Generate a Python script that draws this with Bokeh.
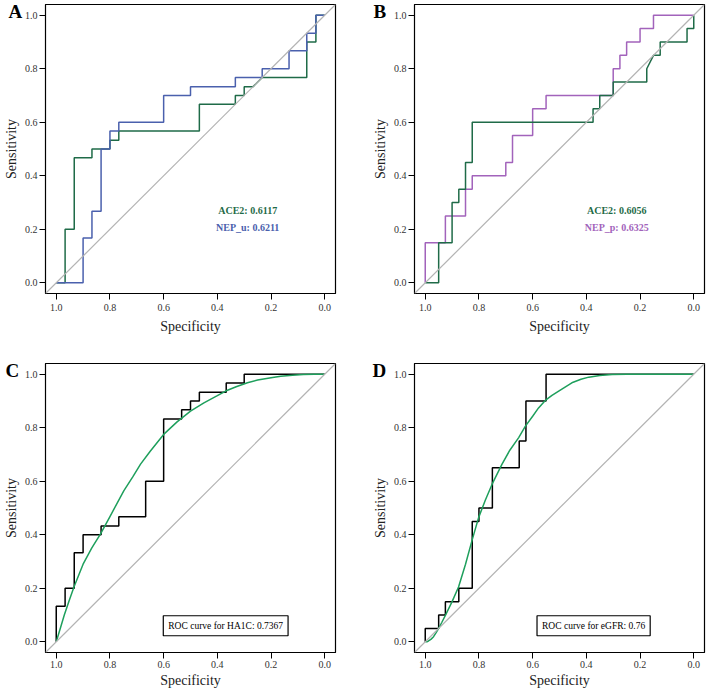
from bokeh.plotting import figure
from bokeh.layouts import gridplot
from bokeh.models import Range1d, FixedTicker, NumeralTickFormatter, Label, Slope, Title
from bokeh.embed import file_html
from bokeh.resources import INLINE

# ---------------- data ----------------
# Panel A
a_ace2_spec = [1.0, 0.967, 0.967, 0.933, 0.933, 0.867, 0.867, 0.8, 0.8, 0.767, 0.767, 0.467, 0.467,
               0.333, 0.333, 0.3, 0.3, 0.267, 0.233, 0.067, 0.067, 0.033, 0.033, 0.0]
a_ace2_sens = [0.0, 0.0, 0.2, 0.2, 0.467, 0.467, 0.5, 0.5, 0.533, 0.533, 0.567, 0.567, 0.667,
               0.667, 0.7, 0.7, 0.733, 0.733, 0.767, 0.767, 0.9, 0.9, 1.0, 1.0]
a_nep_spec = [1.0, 0.9, 0.9, 0.867, 0.867, 0.833, 0.833, 0.8, 0.8, 0.767, 0.767, 0.6, 0.6, 0.5, 0.5,
              0.333, 0.333, 0.233, 0.233, 0.133, 0.133, 0.067, 0.067, 0.033, 0.033, 0.0]
a_nep_sens = [0.0, 0.0, 0.167, 0.167, 0.267, 0.267, 0.5, 0.5, 0.567, 0.567, 0.6, 0.6, 0.7, 0.7, 0.733,
              0.733, 0.767, 0.767, 0.8, 0.8, 0.867, 0.867, 0.933, 0.933, 1.0, 1.0]
a_labels = ["ACE2: 0.6117", "NEP_u: 0.6211"]

# Panel B
b_ace2_spec = [1.0, 0.95, 0.95, 0.9, 0.9, 0.875, 0.875, 0.85, 0.85, 0.825, 0.825, 0.375, 0.375, 0.35,
               0.35, 0.3, 0.3, 0.175, 0.175, 0.15, 0.125, 0.125, 0.025, 0.025, 0.0, 0.0]
b_ace2_sens = [0.0, 0.0, 0.15, 0.15, 0.3, 0.3, 0.35, 0.35, 0.45, 0.45, 0.6, 0.6, 0.65, 0.65, 0.7, 0.7,
               0.75, 0.75, 0.8, 0.85, 0.85, 0.9, 0.9, 0.95, 0.95, 1.0]
b_nep_spec = [1.0, 1.0, 0.925, 0.925, 0.85, 0.85, 0.825, 0.825, 0.7, 0.7, 0.675, 0.675, 0.6, 0.6, 0.55,
              0.55, 0.3, 0.3, 0.275, 0.275, 0.25, 0.25, 0.2, 0.2, 0.15, 0.15, 0.0]
b_nep_sens = [0.0, 0.15, 0.15, 0.25, 0.25, 0.35, 0.35, 0.4, 0.4, 0.45, 0.45, 0.55, 0.55, 0.65, 0.65,
              0.7, 0.7, 0.8, 0.8, 0.85, 0.85, 0.9, 0.9, 0.95, 0.95, 1.0, 1.0]
b_labels = ["ACE2: 0.6056", "NEP_p: 0.6325"]

# Panel C
c_emp_spec = [1.0, 1.0, 0.967, 0.967, 0.933, 0.933, 0.9, 0.9, 0.833, 0.833, 0.767, 0.767, 0.667, 0.667,
              0.6, 0.6, 0.533, 0.533, 0.5, 0.5, 0.467, 0.467, 0.367, 0.367, 0.3, 0.3, 0.0]
c_emp_sens = [0.0, 0.133, 0.133, 0.2, 0.2, 0.333, 0.333, 0.4, 0.4, 0.433, 0.433, 0.467, 0.467, 0.6,
              0.6, 0.833, 0.833, 0.867, 0.867, 0.9, 0.9, 0.933, 0.933, 0.967, 0.967, 1.0, 1.0]
c_smooth_spec = [1.0, 0.985, 0.97, 0.952, 0.934, 0.9, 0.868, 0.835, 0.8, 0.748, 0.715, 0.686, 0.65,
                 0.6, 0.55, 0.5, 0.45, 0.4, 0.369, 0.33, 0.288, 0.25, 0.2, 0.164, 0.12, 0.08, 0.04, 0.0]
c_smooth_sens = [0.0, 0.05, 0.1, 0.153, 0.205, 0.29, 0.35, 0.403, 0.468, 0.565, 0.616, 0.664, 0.712,
                 0.775, 0.822, 0.862, 0.893, 0.92, 0.937, 0.953, 0.968, 0.978, 0.987, 0.992, 0.996,
                 0.999, 1.0, 1.0]
c_label = "ROC curve for HA1C: 0.7367"

# Panel D
d_emp_spec = [1.0, 1.0, 0.95, 0.95, 0.925, 0.925, 0.875, 0.875, 0.825, 0.825, 0.8, 0.8, 0.75, 0.75,
              0.65, 0.65, 0.625, 0.625, 0.55, 0.55, 0.0]
d_emp_sens = [0.0, 0.05, 0.05, 0.1, 0.1, 0.15, 0.15, 0.2, 0.2, 0.45, 0.45, 0.5, 0.5, 0.65, 0.65, 0.75,
              0.75, 0.9, 0.9, 1.0, 1.0]
d_smooth_spec = [1.0, 0.994, 0.988, 0.979, 0.969, 0.96, 0.95, 0.938, 0.925, 0.9, 0.876, 0.85, 0.826,
                 0.801, 0.776, 0.751, 0.714, 0.685, 0.652, 0.627, 0.6, 0.578, 0.553, 0.528, 0.503,
                 0.454, 0.42, 0.391, 0.35, 0.304, 0.25, 0.2, 0.0]
d_smooth_sens = [0.0, 0.0, 0.003, 0.009, 0.019, 0.033, 0.05, 0.073, 0.099, 0.15, 0.205, 0.29, 0.378,
                 0.465, 0.53, 0.589, 0.664, 0.716, 0.763, 0.806, 0.843, 0.874, 0.902, 0.921, 0.937,
                 0.968, 0.981, 0.989, 0.995, 0.999, 1.0, 1.0, 1.0]
d_label = "ROC curve for eGFR: 0.76"

panel_letters = ["A", "B", "C", "D"]
ticks = [0.0, 0.2, 0.4, 0.6, 0.8, 1.0]

# ---------------- styles ----------------
FONT = "Liberation Serif"
GREEN_DARK = "#1f6b48"
BLUE = "#4a60ad"
PURPLE = "#a263bb"
GREEN_SMOOTH = "#1e9f5c"
GRAY = "#b3b3b3"
FW, FH = 290, 289


def make_fig(letter, letter_dx, lb, rb, tb, bb, x_std):
    p = figure(frame_width=FW, frame_height=FH,
               min_border_left=lb, min_border_right=rb, min_border_top=tb, min_border_bottom=bb,
               x_range=Range1d(1.04, -0.04), y_range=Range1d(-0.04, 1.04),
               output_backend="svg", toolbar_location=None)
    p.grid.visible = False
    p.outline_line_color = "black"
    p.outline_line_width = 1.2
    p.outline_line_alpha = 1.0
    for ax in (p.xaxis, p.yaxis):
        ax.ticker = FixedTicker(ticks=ticks)
        ax.formatter = NumeralTickFormatter(format="0.0")
        ax.minor_tick_line_color = None
        ax.major_tick_in = 0
        ax.major_tick_out = 6
        ax.major_tick_line_color = "black"
        ax.axis_line_color = "black"
        ax.major_label_text_font = FONT
        ax.major_label_text_font_size = "10px"
        ax.major_label_text_color = "#333333"
        ax.axis_label_text_font = FONT
        ax.axis_label_text_font_size = "14px"
        ax.axis_label_text_font_style = "normal"
        ax.axis_label_text_color = "#222222"
    p.yaxis.major_label_standoff = 2
    p.yaxis.axis_label_standoff = 3
    p.xaxis.major_label_standoff = x_std[0]
    p.xaxis.axis_label_standoff = x_std[1]
    p.xaxis.axis_label = "Specificity"
    p.yaxis.axis_label = "Sensitivity"
    p.add_layout(Slope(gradient=-1, y_intercept=1, line_color=GRAY, line_width=1.2))
    # panel letter drawn as a title hugging the frame's top-left corner
    p.add_layout(Title(text=letter, align="left", offset=-letter_dx, vertical_align="bottom",
                       standoff=-34, text_font=FONT, text_font_size="19px",
                       text_font_style="bold", text_color="black"), "above")
    return p


pa = make_fig(panel_letters[0], 37, 44, 34, 4, 66, (4, 5))
pb = make_fig(panel_letters[1], 41, 44, 5, 4, 66, (4, 5))
pc = make_fig(panel_letters[2], 40, 44, 34, 4, 38, (2, 2))
pd_ = make_fig(panel_letters[3], 42, 44, 5, 4, 38, (2, 2))

# Panel A
pa.line(a_ace2_spec, a_ace2_sens, line_color=GREEN_DARK, line_width=1.5)
pa.line(a_nep_spec, a_nep_sens, line_color=BLUE, line_width=1.5)
pa.add_layout(Label(x=0.287, y=0.27, text=a_labels[0], text_align="center", text_baseline="middle",
                    text_font=FONT, text_font_size="10px", text_font_style="bold", text_color=GREEN_DARK))
pa.add_layout(Label(x=0.287, y=0.205, text=a_labels[1], text_align="center", text_baseline="middle",
                    text_font=FONT, text_font_size="10px", text_font_style="bold", text_color=BLUE))

# Panel B
pb.line(b_nep_spec, b_nep_sens, line_color=PURPLE, line_width=1.5)
pb.line(b_ace2_spec, b_ace2_sens, line_color=GREEN_DARK, line_width=1.5)
pb.add_layout(Label(x=0.287, y=0.27, text=b_labels[0], text_align="center", text_baseline="middle",
                    text_font=FONT, text_font_size="10px", text_font_style="bold", text_color=GREEN_DARK))
pb.add_layout(Label(x=0.287, y=0.205, text=b_labels[1], text_align="center", text_baseline="middle",
                    text_font=FONT, text_font_size="10px", text_font_style="bold", text_color=PURPLE))

# Panel C
pc.line(c_emp_spec, c_emp_sens, line_color="black", line_width=1.5)
pc.line(c_smooth_spec, c_smooth_sens, line_color=GREEN_SMOOTH, line_width=1.5)
pc.add_layout(Label(x=0.369, y=0.06, text=c_label, text_align="center", text_baseline="middle",
                    text_font=FONT, text_font_size="9.5px", text_color="black",
                    border_line_color="black", border_line_width=1.2, background_fill_color="white",
                    padding=5))

# Panel D
pd_.line(d_emp_spec, d_emp_sens, line_color="black", line_width=1.5)
pd_.line(d_smooth_spec, d_smooth_sens, line_color=GREEN_SMOOTH, line_width=1.5)
pd_.add_layout(Label(x=0.373, y=0.06, text=d_label, text_align="center", text_baseline="middle",
                     text_font=FONT, text_font_size="9.5px", text_color="black",
                     border_line_color="black", border_line_width=1.2, background_fill_color="white",
                     padding=5))

grid = gridplot([[pa, pb], [pc, pd_]], toolbar_location=None)

open("out.html", "w").write(file_html(grid, INLINE))
